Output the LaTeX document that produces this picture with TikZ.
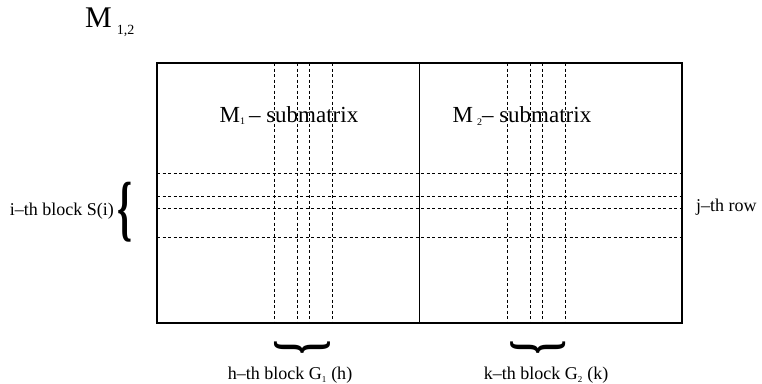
\documentclass[tikz,border=0pt]{standalone}
\usepackage{fontspec}
\setmainfont{Liberation Serif}
\usetikzlibrary{positioning}

\begin{document}
\begin{tikzpicture}[x=1pt,y=-1pt,every node/.style={inner sep=0pt},
  grid/.style={dashed,dash pattern=on 3pt off 2.5pt,line width=0.6pt}]
  \useasboundingbox (0,0) rectangle (762,383);

  % the matrix and its two halves
  \coordinate (tl) at (157,63);
  \coordinate (br) at (682,323);
  \coordinate (mt) at (419,63);
  \coordinate (mb) at (419,323);

  % rows of block S(i)
  \draw[grid](157,173)--(682,173);
  \draw[grid](157,196)--(682,196);
  \draw[grid](157,208)--(682,208);
  \draw[grid](157,237)--(682,237);
  % columns of block G1(h)
  \draw[grid](274,63)--(274,323);
  \draw[grid](297,63)--(297,323);
  \draw[grid](309,63)--(309,323);
  \draw[grid](332,63)--(332,323);
  % columns of block G2(k)
  \draw[grid](507,63)--(507,323);
  \draw[grid](530,63)--(530,323);
  \draw[grid](542,63)--(542,323);
  \draw[grid](565,63)--(565,323);

  \draw[line width=0.6pt](mt)--(mb);
  \draw[line width=1.4pt](tl) rectangle (br);

  \node[anchor=base west] (M12) at (85,27)
    {\fontsize{30}{30}\selectfont M\,\raisebox{-7pt}{\fontsize{14}{14}\selectfont 1,2}};

  \node[anchor=base] (M1) at (289,122)
    {\fontsize{23}{23}\selectfont M\raisebox{-2pt}{\fontsize{10}{10}\selectfont 1}\,– submatrix};
  \node[anchor=base] (M2) at (522,122)
    {\fontsize{23}{23}\selectfont M\,\raisebox{-3pt}{\fontsize{10}{10}\selectfont 2}– submatrix};

  % block labels
  \node (Sbrace) at (125,212) {\resizebox*{15pt}{60pt}{\fontsize{20}{20}\bfseries\{}};
  \node[anchor=east] (Si) at (114,211) {\fontsize{18}{18}\selectfont i–th block S(i)};
  \node[anchor=west] (jrow) at (696,207) {\fontsize{18}{18}\selectfont j–th row};

  \node[rotate=-90] (Gbrace1) at (302,347) {\resizebox*{14pt}{56pt}{\fontsize{20}{20}\bfseries\}}};
  \node[rotate=-90] (Gbrace2) at (538,347) {\resizebox*{14pt}{55pt}{\fontsize{20}{20}\bfseries\}}};
  \node[anchor=base] (G1) at (290,379)
    {\fontsize{18}{18}\selectfont h–th block G\raisebox{-3pt}{\fontsize{9}{9}\selectfont 1}\kern5pt(h)};
  \node[anchor=base] (G2) at (546,379)
    {\fontsize{18}{18}\selectfont k–th block G\raisebox{-3pt}{\fontsize{9}{9}\selectfont 2}\kern5pt(k)};
\end{tikzpicture}
\end{document}
